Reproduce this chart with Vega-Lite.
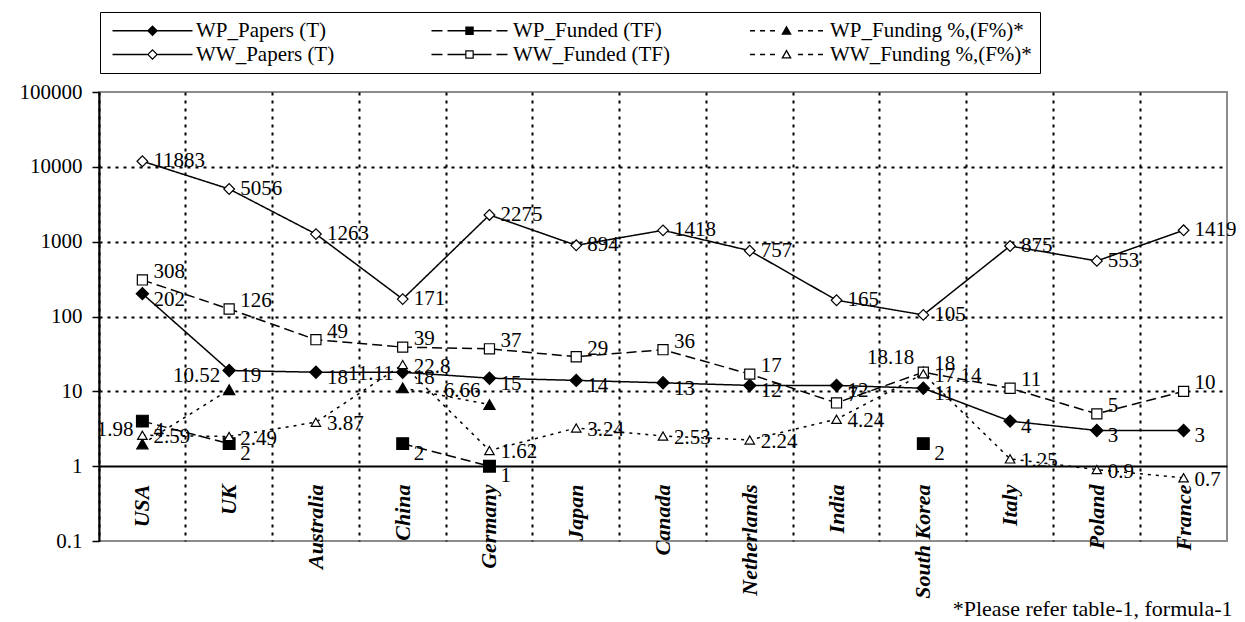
{
"$schema": "https://vega.github.io/schema/vega-lite/v6.json",
"width": 1128, "height": 449,
"autosize": {"type": "none"},
"padding": {"left": 99, "top": 92, "right": 18, "bottom": 81},
"background": "white",
"config": {"view": {"stroke": "#8c8c8c", "strokeWidth": 2}, "font": "Liberation Serif"},
"data": {"values": [
{"country":"USA","series":"WP_Papers (T)","value":202},
{"country":"UK","series":"WP_Papers (T)","value":19},
{"country":"Australia","series":"WP_Papers (T)","value":18},
{"country":"China","series":"WP_Papers (T)","value":18},
{"country":"Germany","series":"WP_Papers (T)","value":15},
{"country":"Japan","series":"WP_Papers (T)","value":14},
{"country":"Canada","series":"WP_Papers (T)","value":13},
{"country":"Netherlands","series":"WP_Papers (T)","value":12},
{"country":"India","series":"WP_Papers (T)","value":12},
{"country":"South Korea","series":"WP_Papers (T)","value":11},
{"country":"Italy","series":"WP_Papers (T)","value":4},
{"country":"Poland","series":"WP_Papers (T)","value":3},
{"country":"France","series":"WP_Papers (T)","value":3},
{"country":"USA","series":"WP_Funded (TF)","value":4},
{"country":"UK","series":"WP_Funded (TF)","value":2},
{"country":"Australia","series":"WP_Funded (TF)","value":null},
{"country":"China","series":"WP_Funded (TF)","value":2},
{"country":"Germany","series":"WP_Funded (TF)","value":1},
{"country":"Japan","series":"WP_Funded (TF)","value":null},
{"country":"Canada","series":"WP_Funded (TF)","value":null},
{"country":"Netherlands","series":"WP_Funded (TF)","value":null},
{"country":"India","series":"WP_Funded (TF)","value":null},
{"country":"South Korea","series":"WP_Funded (TF)","value":2},
{"country":"Italy","series":"WP_Funded (TF)","value":null},
{"country":"Poland","series":"WP_Funded (TF)","value":null},
{"country":"France","series":"WP_Funded (TF)","value":null},
{"country":"USA","series":"WP_Funding %,(F%)*","value":1.98},
{"country":"UK","series":"WP_Funding %,(F%)*","value":10.52},
{"country":"Australia","series":"WP_Funding %,(F%)*","value":null},
{"country":"China","series":"WP_Funding %,(F%)*","value":11.11},
{"country":"Germany","series":"WP_Funding %,(F%)*","value":6.66},
{"country":"Japan","series":"WP_Funding %,(F%)*","value":null},
{"country":"Canada","series":"WP_Funding %,(F%)*","value":null},
{"country":"Netherlands","series":"WP_Funding %,(F%)*","value":null},
{"country":"India","series":"WP_Funding %,(F%)*","value":null},
{"country":"South Korea","series":"WP_Funding %,(F%)*","value":18.18},
{"country":"Italy","series":"WP_Funding %,(F%)*","value":null},
{"country":"Poland","series":"WP_Funding %,(F%)*","value":null},
{"country":"France","series":"WP_Funding %,(F%)*","value":null},
{"country":"USA","series":"WW_Papers (T)","value":11883},
{"country":"UK","series":"WW_Papers (T)","value":5056},
{"country":"Australia","series":"WW_Papers (T)","value":1263},
{"country":"China","series":"WW_Papers (T)","value":171},
{"country":"Germany","series":"WW_Papers (T)","value":2275},
{"country":"Japan","series":"WW_Papers (T)","value":894},
{"country":"Canada","series":"WW_Papers (T)","value":1418},
{"country":"Netherlands","series":"WW_Papers (T)","value":757},
{"country":"India","series":"WW_Papers (T)","value":165},
{"country":"South Korea","series":"WW_Papers (T)","value":105},
{"country":"Italy","series":"WW_Papers (T)","value":875},
{"country":"Poland","series":"WW_Papers (T)","value":553},
{"country":"France","series":"WW_Papers (T)","value":1419},
{"country":"USA","series":"WW_Funded (TF)","value":308},
{"country":"UK","series":"WW_Funded (TF)","value":126},
{"country":"Australia","series":"WW_Funded (TF)","value":49},
{"country":"China","series":"WW_Funded (TF)","value":39},
{"country":"Germany","series":"WW_Funded (TF)","value":37},
{"country":"Japan","series":"WW_Funded (TF)","value":29},
{"country":"Canada","series":"WW_Funded (TF)","value":36},
{"country":"Netherlands","series":"WW_Funded (TF)","value":17},
{"country":"India","series":"WW_Funded (TF)","value":7},
{"country":"South Korea","series":"WW_Funded (TF)","value":18},
{"country":"Italy","series":"WW_Funded (TF)","value":11},
{"country":"Poland","series":"WW_Funded (TF)","value":5},
{"country":"France","series":"WW_Funded (TF)","value":10},
{"country":"USA","series":"WW_Funding %,(F%)*","value":2.59},
{"country":"UK","series":"WW_Funding %,(F%)*","value":2.49},
{"country":"Australia","series":"WW_Funding %,(F%)*","value":3.87},
{"country":"China","series":"WW_Funding %,(F%)*","value":22.8},
{"country":"Germany","series":"WW_Funding %,(F%)*","value":1.62},
{"country":"Japan","series":"WW_Funding %,(F%)*","value":3.24},
{"country":"Canada","series":"WW_Funding %,(F%)*","value":2.53},
{"country":"Netherlands","series":"WW_Funding %,(F%)*","value":2.24},
{"country":"India","series":"WW_Funding %,(F%)*","value":4.24},
{"country":"South Korea","series":"WW_Funding %,(F%)*","value":17.14},
{"country":"Italy","series":"WW_Funding %,(F%)*","value":1.25},
{"country":"Poland","series":"WW_Funding %,(F%)*","value":0.9},
{"country":"France","series":"WW_Funding %,(F%)*","value":0.7}
]},
"encoding": {
  "x": {"field": "country", "type": "nominal",
    "sort": ["USA","UK","Australia","China","Germany","Japan","Canada","Netherlands","India","South Korea","Italy","Poland","France"],
    "scale": {"type": "band", "paddingInner": 0, "paddingOuter": 0},
    "axis": {"title": "*Please refer table-1, formula-1", "domain": false, "ticks": false,
      "labelAngle": 270, "labelAlign": "right", "labelBaseline": "middle", "labelPadding": -57,
      "labelFont": "Liberation Serif", "labelFontSize": 22, "labelFontWeight": "bold", "labelFontStyle": "italic",
      "labelColor": "black", "labelOverlap": false, "labelLimit": 0,
      "grid": true, "gridColor": "black", "gridDash": [3, 5], "gridWidth": 2, "bandPosition": 0,
      "titleX": 1133, "titleY": 74, "titleAlign": "right", "titleBaseline": "alphabetic", "titleAnchor": null,
      "titleFont": "Liberation Serif", "titleFontSize": 22, "titleFontWeight": "normal", "titleColor": "black"}},
  "y": {"field": "value", "type": "quantitative",
    "scale": {"type": "log", "domain": [0.1, 100000], "nice": false},
    "axis": {"title": null, "values": [0.1, 1, 10, 100, 1000, 10000, 100000], "format": "~g",
      "domainColor": "black", "domainWidth": 2, "tickColor": "black", "tickSize": 7, "tickWidth": 1.5,
      "labelPadding": 10, "labelFont": "Liberation Serif", "labelFontSize": 21, "labelColor": "black",
      "grid": true, "gridColor": "black", "gridWidth": 2,
      "gridDash": {"condition": {"test": "datum.value == 1", "value": []}, "value": [3, 5]},
      "gridOpacity": {"condition": {"test": "datum.value < 0.5 || datum.value > 50000", "value": 0}, "value": 1}}}
},
"layer": [
  {"mark": {"type": "line", "color": "black", "strokeWidth": 1.5, "invalid": "break-paths-filter-domains"},
   "encoding": {"detail": {"field": "series"},
     "strokeDash": {"field": "series", "type": "nominal",
       "scale": {"domain": ["WP_Papers (T)","WP_Funded (TF)","WP_Funding %,(F%)*","WW_Papers (T)","WW_Funded (TF)","WW_Funding %,(F%)*"],
         "range": [[1,0],[10,5],[3,5],[1,0],[10,5],[3,5]]}, "legend": null}}},
  {"transform": [{"filter": "datum.value != null"}],
   "mark": {"type": "point", "filled": true, "stroke": "black", "strokeWidth": 1.2, "opacity": 1},
   "encoding": {
     "shape": {"field": "series", "type": "nominal",
       "scale": {"domain": ["WP_Papers (T)","WP_Funded (TF)","WP_Funding %,(F%)*","WW_Papers (T)","WW_Funded (TF)","WW_Funding %,(F%)*"],
         "range": ["diamond","square","triangle-up","diamond","square","triangle-up"]}, "legend": null},
     "fill": {"field": "series", "type": "nominal",
       "scale": {"domain": ["WP_Papers (T)","WP_Funded (TF)","WP_Funding %,(F%)*","WW_Papers (T)","WW_Funded (TF)","WW_Funding %,(F%)*"],
         "range": ["black","black","black","white","white","white"]}, "legend": null},
     "size": {"field": "series", "type": "nominal",
       "scale": {"domain": ["WP_Papers (T)","WP_Funded (TF)","WP_Funding %,(F%)*","WW_Papers (T)","WW_Funded (TF)","WW_Funding %,(F%)*"],
         "range": [150, 90, 110, 150, 90, 110]}, "legend": null}}},
  {"transform": [{"filter": "datum.value != null && datum.series == 'WW_Papers (T)'"}],
   "mark": {"type": "text", "align": "left", "baseline": "middle", "dx": 11, "dy": 0, "font": "Liberation Serif", "fontSize": 21, "fill": "black"},
   "encoding": {"text": {"field": "value", "type": "nominal"}}},
  {"transform": [{"filter": "datum.value != null && datum.series == 'WW_Funded (TF)'"}],
   "mark": {"type": "text", "align": "left", "baseline": "middle", "dx": 11, "dy": -8, "font": "Liberation Serif", "fontSize": 21, "fill": "black"},
   "encoding": {"text": {"field": "value", "type": "nominal"}}},
  {"transform": [{"filter": "datum.value != null && datum.series == 'WP_Papers (T)'"}],
   "mark": {"type": "text", "align": "left", "baseline": "middle", "dx": 11, "dy": 6, "font": "Liberation Serif", "fontSize": 21, "fill": "black"},
   "encoding": {"text": {"field": "value", "type": "nominal"}}},
  {"transform": [{"filter": "datum.value != null && datum.series == 'WP_Funded (TF)'"}],
   "mark": {"type": "text", "align": "left", "baseline": "middle", "dx": 11, "dy": 10, "font": "Liberation Serif", "fontSize": 21, "fill": "black"},
   "encoding": {"text": {"field": "value", "type": "nominal"}}},
  {"transform": [{"filter": "datum.value != null && datum.series == 'WW_Funding %,(F%)*'"}],
   "mark": {"type": "text", "align": "left", "baseline": "middle", "dx": 11, "dy": 2, "font": "Liberation Serif", "fontSize": 21, "fill": "black"},
   "encoding": {"text": {"field": "value", "type": "nominal"}}},
  {"transform": [{"filter": "datum.value != null && datum.series == 'WP_Funding %,(F%)*'"}],
   "mark": {"type": "text", "align": "right", "baseline": "middle", "dx": -9, "dy": -14, "font": "Liberation Serif", "fontSize": 21, "fill": "black"},
   "encoding": {"text": {"field": "value", "type": "nominal"}}},
  {"data": {"values": [{"entry":"WP_Papers (T)"},{"entry":"WP_Funded (TF)"},{"entry":"WP_Funding %,(F%)*"},{"entry":"WW_Papers (T)"},{"entry":"WW_Funded (TF)"},{"entry":"WW_Funding %,(F%)*"}]},
   "transform": [{"filter": "false"}],
   "mark": {"type": "point", "filled": false, "fill": "black", "stroke": "black", "strokeWidth": 1.2, "size": 100, "opacity": 1},
   "encoding": {
     "shape": {"field": "entry", "type": "nominal",
       "scale": {"domain": ["WP_Papers (T)","WP_Funded (TF)","WP_Funding %,(F%)*","WW_Papers (T)","WW_Funded (TF)","WW_Funding %,(F%)*"],
         "range": [
           "M-8,-0.13L8,-0.13L8,0.13L-8,0.13ZM0,-1.1L1.1,0L0,1.1L-1.1,0Z",
           "M-7.6,-0.13L-5.4,-0.13L-5.4,0.13L-7.6,0.13ZM-4.4,-0.13L4.4,-0.13L4.4,0.13L-4.4,0.13ZM5.4,-0.13L7.6,-0.13L7.6,0.13L5.4,0.13ZM-0.85,-0.85L0.85,-0.85L0.85,0.85L-0.85,0.85Z",
           "M-7.3,-0.13L-6.3,-0.13L-6.3,0.13L-7.3,0.13ZM-5.3,-0.13L-4.3,-0.13L-4.3,0.13L-5.3,0.13ZM-3.3,-0.13L-2.3,-0.13L-2.3,0.13L-3.3,0.13ZM2.3,-0.13L3.3,-0.13L3.3,0.13L2.3,0.13ZM4.3,-0.13L5.3,-0.13L5.3,0.13L4.3,0.13ZM6.3,-0.13L7.3,-0.13L7.3,0.13L6.3,0.13ZM0,-1.05L1.05,0.8L-1.05,0.8Z",
           "M-8,-0.13L-1.05,-0.13L-1.05,0.13L-8,0.13ZM1.05,-0.13L8,-0.13L8,0.13L1.05,0.13ZM0,-1.1L1.1,0L0,1.1L-1.1,0ZM0,-0.76L-0.76,0L0,0.76L0.76,0Z",
           "M-7.6,-0.13L-5.4,-0.13L-5.4,0.13L-7.6,0.13ZM-4.4,-0.13L-0.85,-0.13L-0.85,0.13L-4.4,0.13ZM0.85,-0.13L4.4,-0.13L4.4,0.13L0.85,0.13ZM5.4,-0.13L7.6,-0.13L7.6,0.13L5.4,0.13ZM-0.85,-0.85L0.85,-0.85L0.85,0.85L-0.85,0.85ZM-0.61,-0.61L-0.61,0.61L0.61,0.61L0.61,-0.61Z",
           "M-7.3,-0.13L-6.3,-0.13L-6.3,0.13L-7.3,0.13ZM-5.3,-0.13L-4.3,-0.13L-4.3,0.13L-5.3,0.13ZM-3.3,-0.13L-2.3,-0.13L-2.3,0.13L-3.3,0.13ZM2.3,-0.13L3.3,-0.13L3.3,0.13L2.3,0.13ZM4.3,-0.13L5.3,-0.13L5.3,0.13L4.3,0.13ZM6.3,-0.13L7.3,-0.13L7.3,0.13L6.3,0.13ZM0,-1.05L1.05,0.8L-1.05,0.8ZM0,-0.52L-0.6,0.56L0.6,0.56Z"
         ]},
       "legend": {"title": null, "orient": "none", "legendX": 1, "legendY": -80, "direction": "horizontal", "columns": 3,
         "gridAlign": "all", "columnPadding": 27, "rowPadding": 2, "padding": 8,
         "fillColor": "white", "strokeColor": "black",
         "symbolOffset": 34, "labelOffset": 33, "symbolSize": 100, "symbolStrokeColor": "black", "symbolFillColor": "black",
         "symbolStrokeWidth": 1.2, "symbolOpacity": 1,
         "labelFont": "Liberation Serif", "labelFontSize": 21, "labelColor": "black", "labelLimit": 0,
         "encode": {"symbols": {"update": {"stroke": {"value": "black"}, "strokeWidth": {"value": 1.2}, "fill": {"value": "black"}, "opacity": {"value": 1}}}}}}}}
],
"resolve": {"scale": {"shape": "independent"}}
}
